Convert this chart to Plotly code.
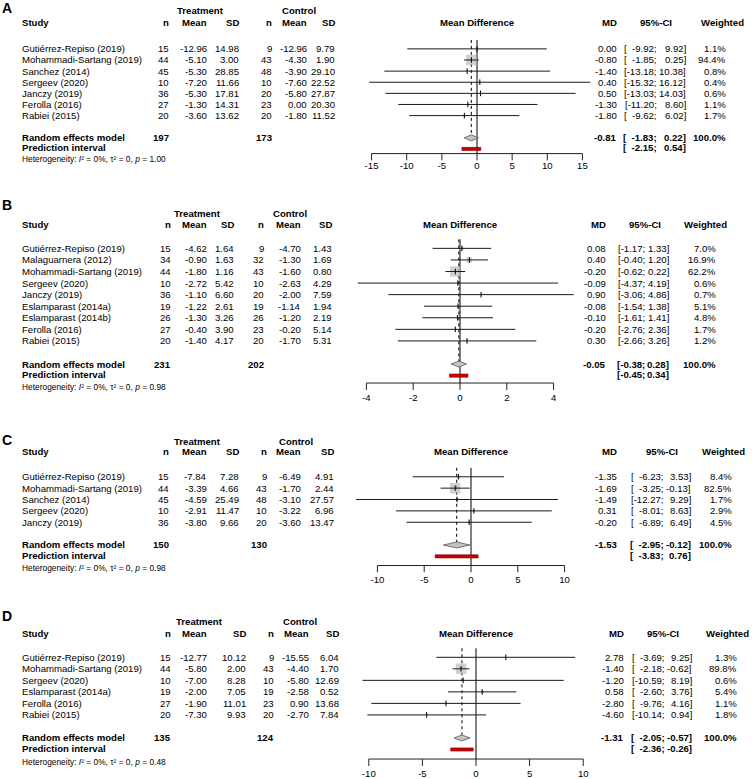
import plotly.graph_objects as go

W, H = 754, 779
FONT = "Liberation Sans, Arial, sans-serif"
FS = 9.6

# ---------------- DATA ----------------
A_study = ["Gutiérrez-Repiso (2019)", "Mohammadi-Sartang (2019)", "Sanchez (2014)", "Sergeev (2020)",
           "Janczy (2019)", "Ferolla (2016)", "Rabiei (2015)"]
A_nT = [15, 44, 45, 10, 36, 27, 20]
A_meanT = [-12.96, -5.10, -5.30, -7.20, -5.30, -1.30, -3.60]
A_sdT = [14.98, 3.00, 28.85, 11.66, 17.81, 14.31, 13.62]
A_nC = [9, 43, 48, 10, 20, 23, 20]
A_meanC = [-12.96, -4.30, -3.90, -7.60, -5.80, 0.00, -1.80]
A_sdC = [9.79, 1.90, 29.10, 22.52, 27.87, 20.30, 11.52]
A_md = [0.00, -0.80, -1.40, 0.40, 0.50, -1.30, -1.80]
A_lo = [-9.92, -1.85, -13.18, -15.32, -13.03, -11.20, -9.62]
A_hi = [9.92, 0.25, 10.38, 16.12, 14.03, 8.60, 6.02]
A_w = [1.1, 94.4, 0.8, 0.4, 0.6, 1.1, 1.7]
A_total = [197, 173]
A_re = [-0.81, -1.83, 0.22]
A_pi = [-2.15, 0.54]
A_p = "1.00"
A_ticks = [-15, -10, -5, 0, 5, 10, 15]

B_study = ["Gutiérrez-Repiso (2019)", "Malaguarnera (2012)", "Mohammadi-Sartang (2019)", "Sergeev (2020)",
           "Janczy (2019)", "Eslamparast (2014a)", "Eslamparast (2014b)", "Ferolla (2016)", "Rabiei (2015)"]
B_nT = [15, 34, 44, 10, 36, 19, 26, 27, 20]
B_meanT = [-4.62, -0.90, -1.80, -2.72, -1.10, -1.22, -1.30, -0.40, -1.40]
B_sdT = [1.64, 1.63, 1.16, 5.42, 6.60, 2.61, 3.26, 3.90, 4.17]
B_nC = [9, 32, 43, 10, 20, 19, 26, 23, 20]
B_meanC = [-4.70, -1.30, -1.60, -2.63, -2.00, -1.14, -1.20, -0.20, -1.70]
B_sdC = [1.43, 1.69, 0.80, 4.29, 7.59, 1.94, 2.19, 5.14, 5.31]
B_md = [0.08, 0.40, -0.20, -0.09, 0.90, -0.08, -0.10, -0.20, 0.30]
B_lo = [-1.17, -0.40, -0.62, -4.37, -3.06, -1.54, -1.61, -2.76, -2.66]
B_hi = [1.33, 1.20, 0.22, 4.19, 4.86, 1.38, 1.41, 2.36, 3.26]
B_w = [7.0, 16.9, 62.2, 0.6, 0.7, 5.1, 4.8, 1.7, 1.2]
B_total = [231, 202]
B_re = [-0.05, -0.38, 0.28]
B_pi = [-0.45, 0.34]
B_p = "0.98"
B_ticks = [-4, -2, 0, 2, 4]

C_study = ["Gutiérrez-Repiso (2019)", "Mohammadi-Sartang (2019)", "Sanchez (2014)", "Sergeev (2020)",
           "Janczy (2019)"]
C_nT = [15, 44, 45, 10, 36]
C_meanT = [-7.84, -3.39, -4.59, -2.91, -3.80]
C_sdT = [7.28, 4.66, 25.49, 11.47, 9.66]
C_nC = [9, 43, 48, 10, 20]
C_meanC = [-6.49, -1.70, -3.10, -3.22, -3.60]
C_sdC = [4.91, 2.44, 27.57, 6.96, 13.47]
C_md = [-1.35, -1.69, -1.49, 0.31, -0.20]
C_lo = [-6.23, -3.25, -12.27, -8.01, -6.89]
C_hi = [3.53, -0.13, 9.29, 8.63, 6.49]
C_w = [8.4, 82.5, 1.7, 2.9, 4.5]
C_total = [150, 130]
C_re = [-1.53, -2.95, -0.12]
C_pi = [-3.83, 0.76]
C_p = "0.98"
C_ticks = [-10, -5, 0, 5, 10]

D_study = ["Gutiérrez-Repiso (2019)", "Mohammadi-Sartang (2019)", "Sergeev (2020)", "Eslamparast (2014a)",
           "Ferolla (2016)", "Rabiei (2015)"]
D_nT = [15, 44, 10, 19, 27, 20]
D_meanT = [-12.77, -5.80, -7.00, -2.00, -1.90, -7.30]
D_sdT = [10.12, 2.00, 8.28, 7.05, 11.01, 9.93]
D_nC = [9, 43, 10, 19, 23, 20]
D_meanC = [-15.55, -4.40, -5.80, -2.58, 0.90, -2.70]
D_sdC = [6.04, 1.70, 12.69, 0.52, 13.68, 7.84]
D_md = [2.78, -1.40, -1.20, 0.58, -2.80, -4.60]
D_lo = [-3.69, -2.18, -10.59, -2.60, -9.76, -10.14]
D_hi = [9.25, -0.62, 8.19, 3.76, 4.16, 0.94]
D_w = [1.3, 89.8, 0.6, 5.4, 1.1, 1.8]
D_total = [135, 124]
D_re = [-1.31, -2.05, -0.57]
D_pi = [-2.36, -0.26]
D_p = "0.48"
D_ticks = [-10, -5, 0, 5, 10]

# ---------------- LAYOUT (pixel positions) ----------------
LAY = {
    "A": dict(letter=8, group=11, header=23, row0=49, step=11.15, blank=1, het=159, axis=154, standoff=-2,
              zero=477, scale=7.03, xr=(-17, 17.5),
              cols=(170, 208, 240, 273, 308, 336), grp=(200, 299), md_r=618, ci_l=625, w_r=727, w_h=722),
    "B": dict(letter=206, group=214, header=225, row0=249, step=11.6, blank=1, het=388, axis=384, standoff=0,
              zero=460, scale=23.4, xr=(-4.6, 5.2),
              cols=(172, 208, 235, 265, 302, 333), grp=(197, 290), md_r=607, ci_l=619, w_r=717, w_h=705),
    "C": dict(letter=441, group=443, header=453, row0=478, step=11.4, blank=1, het=569, axis=567, standoff=0,
              zero=471, scale=9.36, xr=(-13, 10.8),
              cols=(170, 208, 240, 268, 302, 335), grp=(197, 296), md_r=618, ci_l=632, w_r=733, w_h=723),
    "D": dict(letter=618, group=623, header=635, row0=659, step=11.55, blank=1, het=764, axis=761, standoff=0,
              zero=476, scale=10.72, xr=(-11.3, 10.6),
              cols=(172, 208, 247, 275, 310, 340), grp=(199, 300), md_r=625, ci_l=633, w_r=738, w_h=727),
}

PANELS = {
    "A": (A_study, A_nT, A_meanT, A_sdT, A_nC, A_meanC, A_sdC, A_md, A_lo, A_hi, A_w, A_total, A_re, A_pi, A_p, A_ticks),
    "B": (B_study, B_nT, B_meanT, B_sdT, B_nC, B_meanC, B_sdC, B_md, B_lo, B_hi, B_w, B_total, B_re, B_pi, B_p, B_ticks),
    "C": (C_study, C_nT, C_meanT, C_sdT, C_nC, C_meanC, C_sdC, C_md, C_lo, C_hi, C_w, C_total, C_re, C_pi, C_p, C_ticks),
    "D": (D_study, D_nT, D_meanT, D_sdT, D_nC, D_meanC, D_sdC, D_md, D_lo, D_hi, D_w, D_total, D_re, D_pi, D_p, D_ticks),
}

# Arial-like widths (em) for column alignment
CW = {**{d: 0.556 for d in "0123456789\u2007"}, "-": 0.333, ".": 0.278, ";": 0.278, " ": 0.278,
      "[": 0.278, "]": 0.278, "%": 0.889}


def tw(s, fs=FS):
    return sum(CW.get(ch, 0.556) for ch in s) * fs


def fx(px):
    return px / W


def fy(py):
    return 1 - py / H


ann = []


def txt(x, y, s, anchor="left", bold=False, size=FS):
    ann.append(dict(x=fx(x), y=fy(y), xref="paper", yref="paper", text=("<b>%s</b>" % s) if bold else s,
                    showarrow=False, xanchor=anchor, yanchor="middle", borderpad=0,
                    font=dict(family=FONT, size=size, color="black")))


fig = go.Figure()
BLACK = "black"

for k, key in enumerate(["A", "B", "C", "D"], start=1):
    (study, nT, mT, sT, nC, mC, sC, md, lo, hi, w, tot, re, pi, pval, ticks) = PANELS[key]
    L = LAY[key]
    n = len(study)
    rows = [L["row0"] + i * L["step"] for i in range(n)]
    re_y = L["row0"] + (n + L["blank"]) * L["step"]
    pi_y = re_y + L["step"]
    top_y = L["row0"] - 9
    tick_len = 7
    bot_y = L["axis"] + tick_len

    # --- axes ---
    r0, r1 = L["xr"]
    px0 = L["zero"] + r0 * L["scale"]
    px1 = L["zero"] + r1 * L["scale"]
    xa = "xaxis" if k == 1 else "xaxis%d" % k
    ya = "yaxis" if k == 1 else "yaxis%d" % k
    xs = "x" if k == 1 else "x%d" % k
    ys = "y" if k == 1 else "y%d" % k
    fig.update_layout({
        xa: dict(domain=[fx(px0), fx(px1)], range=[r0, r1], anchor=ys, showgrid=False, zeroline=False,
                 showline=False, ticks="", tickvals=ticks, ticktext=[str(t) for t in ticks],
                 tickfont=dict(family=FONT, size=FS, color=BLACK), ticklabelstandoff=L["standoff"],
                 fixedrange=True),
        ya: dict(domain=[fy(bot_y), fy(top_y - 2)], range=[bot_y, top_y - 2], anchor=xs, visible=False,
                 fixedrange=True),
    })

    def add(**kw):
        fig.add_trace(go.Scatter(xaxis=xs, yaxis=ys, showlegend=False, hoverinfo="skip", **kw))

    # axis baseline and tick marks
    bx, by = [ticks[0], ticks[-1]], [L["axis"], L["axis"]]
    for t in ticks:
        bx += [None, t, t]
        by += [None, L["axis"], L["axis"] + tick_len]
    add(x=bx, y=by, mode="lines", line=dict(color="#222", width=1))

    # zero line (solid) and summary line (dotted)
    add(x=[0, 0], y=[top_y, L["axis"]], mode="lines", line=dict(color=BLACK, width=1))
    add(x=[re[0], re[0]], y=[top_y, re_y - 3], mode="lines", line=dict(color=BLACK, width=1, dash="dot"))

    # squares sized by weight
    wmax = max(w)
    add(x=md, y=rows, mode="markers",
        marker=dict(symbol="square", size=[10.5 * (v / wmax) ** 0.5 for v in w], color="#bcbcbc",
                    line=dict(width=0)))
    # CI lines
    cx, cy = [], []
    for a, b, r in zip(lo, hi, rows):
        cx += [a, b, None]
        cy += [r, r, None]
    add(x=cx, y=cy, mode="lines", line=dict(color="#1a1a1a", width=1))
    # point estimate ticks
    add(x=md, y=rows, mode="markers",
        marker=dict(symbol="line-ns-open", size=4, color=BLACK, line=dict(color=BLACK, width=1)))
    # diamond
    add(x=[re[1], re[0], re[2], re[0], re[1]], y=[re_y, re_y - 3, re_y, re_y + 3, re_y], mode="lines",
        fill="toself", fillcolor="#c4c4c4", line=dict(color="#555555", width=0.8))
    # prediction interval
    add(x=[pi[0], pi[1], pi[1], pi[0], pi[0]], y=[pi_y - 1.6, pi_y - 1.6, pi_y + 1.6, pi_y + 1.6, pi_y - 1.6],
        mode="lines", fill="toself", fillcolor="#c80000", line=dict(color="#8b0000", width=0.6))

    # --- text table ---
    c = L["cols"]
    txt(1, L["letter"], key, bold=True, size=14)
    txt(L["grp"][0], L["group"], "Treatment", anchor="center", bold=True)
    txt(L["grp"][1], L["group"], "Control", anchor="center", bold=True)
    txt(21, L["header"], "Study", bold=True)
    for xpos, lab in zip(c, ["n", "Mean", "SD", "n", "Mean", "SD"]):
        txt(xpos, L["header"], lab, anchor="right", bold=True)
    txt(L["zero"] + (ticks[0] + ticks[-1]) / 2 * L["scale"], L["header"], "Mean Difference", anchor="center", bold=True)

    # CI column geometry: "[lower;" right-aligned at ci_semi, "upper]" right-aligned at ci_r
    all_lo = lo + [re[1], pi[0]]
    all_hi = hi + [re[2], pi[1]]
    maxlen = max(len("%.2f" % v) for v in all_lo)

    def lo_str(v):
        s = "%.2f" % v
        return "[" + "\u2007" * (maxlen - len(s)) + s + ";"

    ci_semi = L["ci_l"] + max(tw(lo_str(v)) for v in all_lo)
    ci_r = ci_semi + tw(" ") + max(tw("%.2f]" % v) for v in all_hi)
    txt(L["md_r"], L["header"], "MD", anchor="right", bold=True)
    txt((L["ci_l"] + ci_r) / 2, L["header"], "95%-CI", anchor="center", bold=True)
    txt(L["w_h"], L["header"], "Weighted", anchor="center", bold=True)

    for i in range(n):
        y = rows[i]
        txt(21, y, study[i])
        vals = [str(nT[i]), "%.2f" % mT[i], "%.2f" % sT[i], str(nC[i]), "%.2f" % mC[i], "%.2f" % sC[i]]
        for xpos, v in zip(c, vals):
            txt(xpos, y, v, anchor="right")
        txt(L["md_r"], y, "%.2f" % md[i], anchor="right")
        txt(ci_semi, y, lo_str(lo[i]), anchor="right")
        txt(ci_r, y, "%.2f]" % hi[i], anchor="right")
        txt(L["w_r"], y, "%.1f%%" % w[i], anchor="right")

    # summary rows
    txt(21, re_y, "Random effects model", bold=True)
    txt(c[0], re_y, str(tot[0]), anchor="right", bold=True)
    txt(c[3], re_y, str(tot[1]), anchor="right", bold=True)
    txt(L["md_r"], re_y, "%.2f" % re[0], anchor="right", bold=True)
    txt(ci_semi, re_y, lo_str(re[1]), anchor="right", bold=True)
    txt(ci_r, re_y, "%.2f]" % re[2], anchor="right", bold=True)
    txt(L["w_r"], re_y, "100.0%", anchor="right", bold=True)
    txt(21, pi_y - 1, "Prediction interval", bold=True)
    txt(ci_semi, pi_y - 1, lo_str(pi[0]), anchor="right", bold=True)
    txt(ci_r, pi_y - 1, "%.2f]" % pi[1], anchor="right", bold=True)
    it = '<span style="font-style:italic;font-size:8.4px">%s</span>'
    txt(21, L["het"], "Heterogeneity: " + it % "I" + "² = 0%, τ² = 0, " + it % "p" + " = " + pval, size=8.4)

fig.update_layout(width=W, height=H, margin=dict(l=0, r=0, t=0, b=0), paper_bgcolor="white",
                  plot_bgcolor="rgba(0,0,0,0)", annotations=ann, font=dict(family=FONT, size=FS))

fig.write_html("out.html", config={"displayModeBar": False, "staticPlot": True},
               post_script="document.body.style.margin='0px';")
